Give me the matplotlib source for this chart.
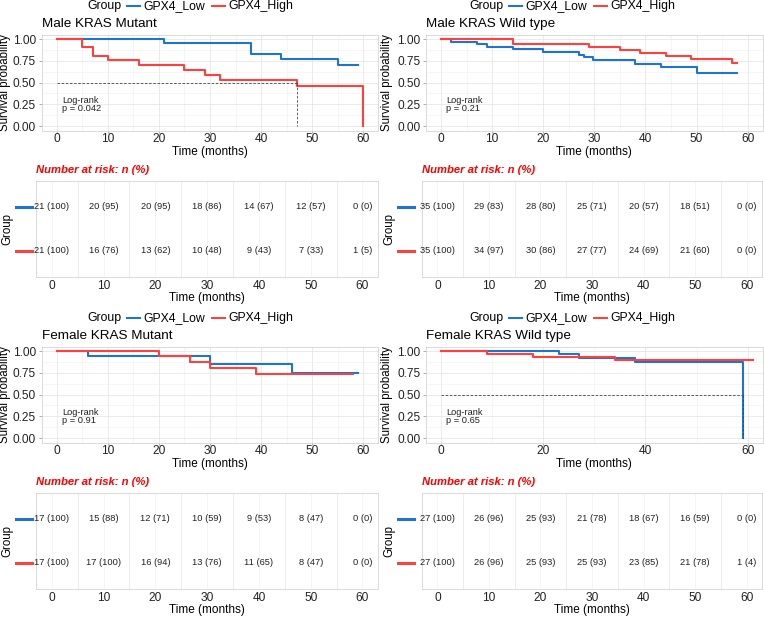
import matplotlib
matplotlib.use("Agg")
import matplotlib.pyplot as plt
from matplotlib.lines import Line2D
import numpy as np

plt.rcParams['font.family'] = ['Liberation Sans', 'DejaVu Sans']

W, H = 764, 618
BLUE = '#1F74D0'
RED = '#FF4040'

groups = ['GPX4_Low', 'GPX4_High']
risk_times = [0, 10, 20, 30, 40, 50, 60]

# Male KRAS Mutant
mm_low_t = [0, 21, 38, 44, 55, 59]
mm_low_s = [1.0, 0.952, 0.833, 0.770, 0.706, 0.706]
mm_high_t = [0, 5, 7, 10, 16, 25, 29, 32, 47, 60]
mm_high_s = [1.0, 0.905, 0.810, 0.755, 0.700, 0.642, 0.584, 0.526, 0.460, 0.0]
mm_risk_low = [21, 20, 20, 18, 14, 12, 0]
mm_risk_high = [21, 16, 13, 10, 9, 7, 1]

# Male KRAS Wild type
mw_low_t = [0, 2, 7, 9, 14, 20, 27, 28, 29.8, 38, 43, 50, 58]
mw_low_s = [1.0, 0.969, 0.943, 0.912, 0.882, 0.848, 0.818, 0.790, 0.755, 0.718, 0.684, 0.608, 0.608]
mw_high_t = [0, 14, 29, 35, 39, 44, 49, 57, 58]
mw_high_s = [1.0, 0.943, 0.910, 0.880, 0.844, 0.810, 0.768, 0.730, 0.730]
mw_risk_low = [35, 29, 28, 25, 20, 18, 0]
mw_risk_high = [35, 34, 30, 27, 24, 21, 0]

# Female KRAS Mutant
fm_low_t = [0, 6, 30, 46, 59]
fm_low_s = [1.0, 0.941, 0.846, 0.752, 0.752]
fm_high_t = [0, 20, 26, 30, 39, 58]
fm_high_s = [1.0, 0.941, 0.876, 0.806, 0.738, 0.738]
fm_risk_low = [17, 15, 12, 10, 9, 8, 0]
fm_risk_high = [17, 17, 16, 13, 11, 8, 0]

# Female KRAS Wild type
fw_low_t = [0, 23, 27, 38, 59]
fw_low_s = [1.0, 0.962, 0.923, 0.875, 0.0]
fw_high_t = [0, 9, 18, 34, 61]
fw_high_s = [1.0, 0.963, 0.926, 0.892, 0.892]
fw_risk_low = [27, 26, 25, 21, 18, 16, 0]
fw_risk_high = [27, 26, 25, 25, 23, 21, 1]

panels = [
    dict(title='Male KRAS Mutant', col=0, row=0, low=(mm_low_t, mm_low_s), high=(mm_high_t, mm_high_s),
         p='0.042', median=47, step=10, risk=(mm_risk_low, mm_risk_high)),
    dict(title='Male KRAS Wild type', col=1, row=0, low=(mw_low_t, mw_low_s), high=(mw_high_t, mw_high_s),
         p='0.21', median=None, step=10, risk=(mw_risk_low, mw_risk_high)),
    dict(title='Female KRAS Mutant', col=0, row=1, low=(fm_low_t, fm_low_s), high=(fm_high_t, fm_high_s),
         p='0.91', median=None, step=10, risk=(fm_risk_low, fm_risk_high)),
    dict(title='Female KRAS Wild type', col=1, row=1, low=(fw_low_t, fw_low_s), high=(fw_high_t, fw_high_s),
         p='0.65', median=59, step=20, risk=(fw_risk_low, fw_risk_high)),
]

fig = plt.figure(figsize=(W / 100, H / 100), dpi=100)


def add_ax(left, top, right, bottom):
    return fig.add_axes([left / W, 1 - bottom / H, (right - left) / W, (bottom - top) / H])


def style(ax):
    for s in ax.spines.values():
        s.set_color('#D4D4D4')
        s.set_linewidth(0.6)
    ax.set_axisbelow(True)


surv_x = [(41.6, 378.4), (425.7, 763.0)]
risk_x = [(36.2, 378.0), (422.0, 762.0)]
ROW = 312

for p in panels:
    x0 = 382 * p['col']
    dy = ROW * p['row']

    # legend on top
    ly = 1 - (6 + dy) / H
    fig.text((x0 + 87) / W, ly, 'Group', fontsize=8.8, va='center')
    fig.add_artist(Line2D([(x0 + 127) / W, (x0 + 140) / W], [ly, ly], color=BLUE, lw=1.5))
    fig.text((x0 + 143) / W, ly, groups[0], fontsize=8.8, va='center')
    fig.add_artist(Line2D([(x0 + 212) / W, (x0 + 225) / W], [ly, ly], color=RED, lw=1.5))
    fig.text((x0 + 228) / W, ly, groups[1], fontsize=8.8, va='center')

    # survival curves
    sl, sr = surv_x[p['col']]
    ax = add_ax(sl, 34.7 + dy, sr, 130.5 + dy)
    style(ax)
    fig.text(sl / W, 1 - (24 + dy) / H, p['title'], fontsize=9.7, va='center')
    ax.step(p['low'][0], p['low'][1], where='post', color=BLUE, lw=1.5)
    ax.step(p['high'][0], p['high'][1], where='post', color=RED, lw=1.5)
    if p['median'] is not None:
        m = p['median']
        ax.plot([0, m], [0.5, 0.5], color='#444444', lw=0.6, ls=(0, (3, 2)))
        ax.plot([m, m], [0.5, 0], color='#444444', lw=0.6, ls=(0, (3, 2)))
    ax.text(1, 0.25, 'Log-rank\np = ' + p['p'], fontsize=6.7, va='center', ha='left',
            linespacing=0.95, color='#222222')
    ax.set_xlim(-3, 63)
    ax.set_ylim(-0.05, 1.05)
    ax.set_xticks(np.arange(0, 61, p['step']))
    ax.set_xticks(np.arange(p['step'] / 2, 61, p['step']), minor=True)
    ax.set_yticks([0, 0.25, 0.5, 0.75, 1.0])
    ax.set_yticklabels(['0.00', '0.25', '0.50', '0.75', '1.00'])
    ax.set_yticks([0.125, 0.375, 0.625, 0.875], minor=True)
    ax.grid(True, which='major', color='#E3E3E3', lw=0.5)
    ax.grid(True, which='minor', color='#EFEFEF', lw=0.4)
    ax.tick_params(axis='x', which='major', length=1.5, width=0.5, color='#888888', labelsize=8.6, pad=0.3,
                   labelcolor='#222222')
    ax.tick_params(axis='y', which='major', length=2.5, width=0.5, color='#888888', labelsize=8.6, pad=1.5,
                   labelcolor='#222222')
    ax.tick_params(which='minor', length=0)
    ax.set_xlabel('Time (months)', fontsize=8.5)
    ax.xaxis.set_label_coords(0.5, -(151.5 - 130.5) / 95.8)
    ax.xaxis.label.set_va('center')
    ax.set_ylabel('Survival probability', fontsize=8.3)
    ax.yaxis.set_label_coords((5 + x0 - sl) / (sr - sl), 0.5)
    ax.yaxis.label.set_va('center')

    # risk table
    rl, rr = risk_x[p['col']]
    rax = add_ax(rl, 180.7 + dy, rr, 276.7 + dy)
    style(rax)
    fig.text(rl / W, 1 - (170 + dy) / H, 'Number at risk: n (%)', fontsize=8.1, color='#FF0000',
             fontweight='bold', fontstyle='italic', va='center')
    for row_y, counts in [(2, p['risk'][0]), (1, p['risk'][1])]:
        for t, n in zip(risk_times, counts):
            pct = int(round(100 * n / counts[0]))
            rax.text(t, row_y, f'{n} ({pct})', fontsize=6.7, ha='center', va='center', color='#222222')
    rax.set_xlim(-3, 63)
    rax.set_ylim(0.4, 2.6)
    rax.set_xticks(risk_times)
    rax.set_xticks(np.arange(5, 60, 10), minor=True)
    rax.set_yticks([])
    rax.grid(True, which='major', axis='x', color='#F2F2F2', lw=0.5)
    rax.grid(True, which='minor', axis='x', color='#E6E6E6', lw=0.5)
    rax.tick_params(which='both', length=0, labelsize=8.6, pad=2.3, labelcolor='#222222')
    ex0 = (16 + x0 - rl) / (rr - rl)
    ex1 = (32 + x0 - rl) / (rr - rl)
    trans = rax.get_yaxis_transform()
    rax.plot([ex0, ex1], [2, 2], color=BLUE, lw=2.2, transform=trans, clip_on=False)
    rax.plot([ex0, ex1], [1, 1], color=RED, lw=2.2, transform=trans, clip_on=False)
    rax.set_xlabel('Time (months)', fontsize=8.5)
    rax.xaxis.set_label_coords(0.5, -(298 - 276.7) / 96)
    rax.xaxis.label.set_va('center')
    rax.set_ylabel('Group', fontsize=8.3)
    rax.yaxis.set_label_coords((7 + x0 - rl) / (rr - rl), 0.5)
    rax.yaxis.label.set_va('center')

fig.savefig('out.png', dpi=100, facecolor='white')
